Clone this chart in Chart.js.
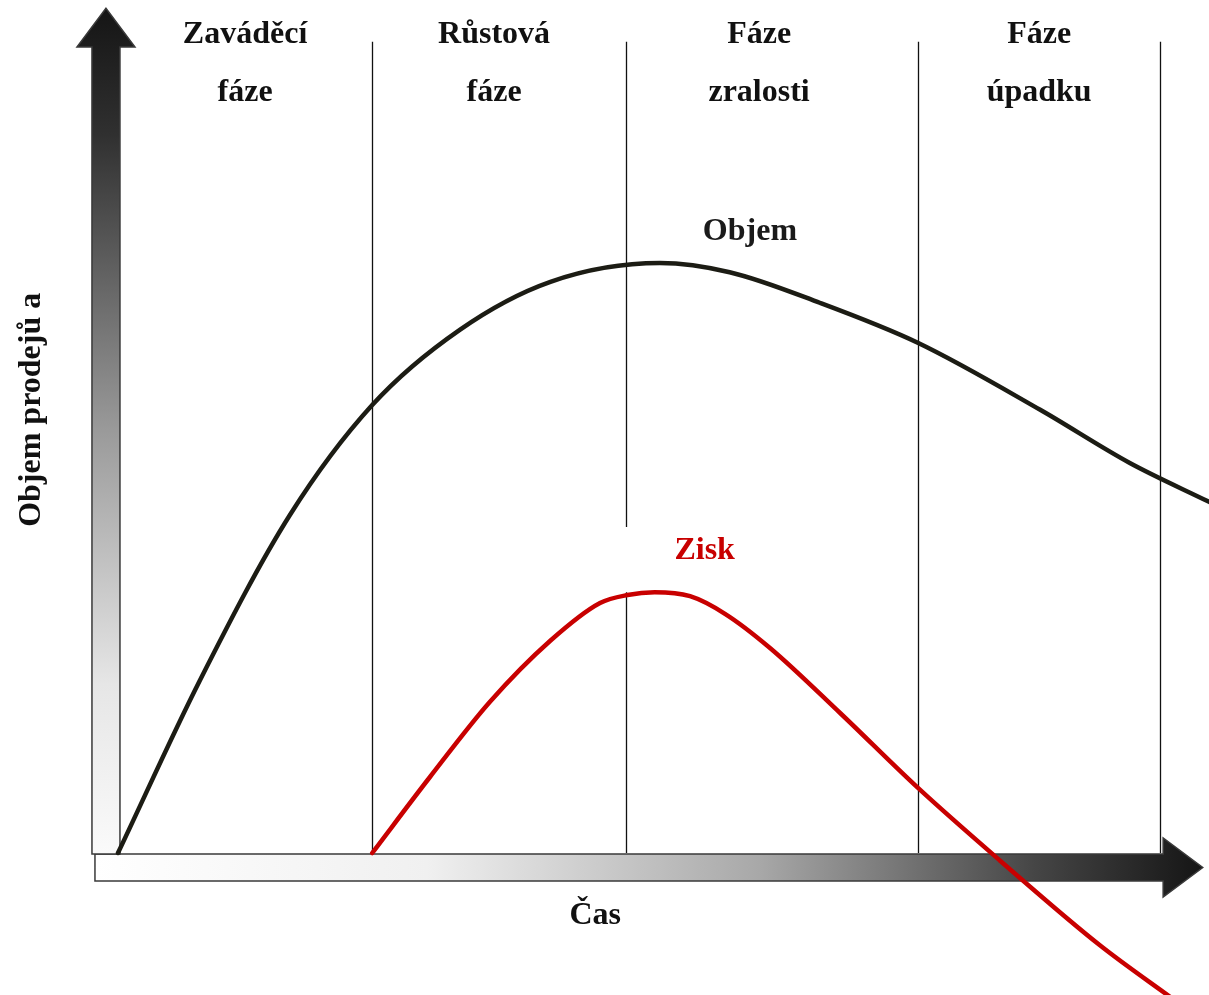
<!DOCTYPE html>
<html>
<head>
<meta charset="utf-8">
<script src="https://cdn.jsdelivr.net/npm/chart.js@4/dist/chart.umd.min.js"></script>
<style>
  html, body { margin: 0; padding: 0; background: #ffffff; }
  #c { display: block; }
</style>
</head>
<body>
<canvas id="c" width="1209" height="995"></canvas>
<script>
// ---- data (time units 0..100, value units) ----
const phaseBoundaries = [24.4, 48.75, 76.8, 100];
const phaseLine1 = ['Zaváděcí', 'Růstová', 'Fáze', 'Fáze'];
const phaseLine2 = ['fáze', 'fáze', 'zralosti', 'úpadku'];

const objemTime  = [0, 7.87, 16.5, 24.4, 32.8, 41.5, 52.0, 58.7, 67.4, 76.8, 88.5, 97.1, 104.7];
const objemValue = [0, 21.6, 42.25, 56.0, 65.4, 71.4, 73.75, 72.6, 68.75, 63.75, 55.4, 48.75, 43.9];

const ziskTime  = [24.4, 29.94, 35.7, 41.46, 46.26, 48.9, 51.5, 54.9, 58.25, 62.6, 69.3, 76.8, 84.6, 94.2, 101.4];
const ziskValue = [0, 9.5, 18.9, 26.5, 31.25, 32.25, 32.6, 32.1, 29.9, 25.6, 17.5, 8.1, -0.9, -11.5, -18.4];

const seriesNames = ['Objem', 'Zisk'];
const axisTitleY = 'Objem prodejů a';
const axisTitleX = 'Čas';

const FONT = 'bold 32px "Liberation Serif", "DejaVu Serif", serif';
const BLACK = '#1c1c14';
const RED = '#c80000';
const labelNudgePx = [0, -5, -13, 0];

function pts(xs, ys) { return xs.map((x, i) => ({ x: x, y: ys[i] })); }

const decor = {
  id: 'decor',
  beforeDatasetsDraw(chart) {
    const ctx = chart.ctx;
    const xs = chart.scales.x, ys = chart.scales.y;
    const ox = xs.getPixelForValue(0), oy = ys.getPixelForValue(0);
    const topY = ys.getPixelForValue(101.4);

    // phase boundary lines
    ctx.save();
    ctx.strokeStyle = '#111';
    ctx.lineWidth = 1.3;
    const ziskPeak = Math.max(...ziskValue);
    phaseBoundaries.forEach((b, i) => {
      const px = Math.round(xs.getPixelForValue(b)) + 0.5;
      ctx.beginPath();
      if (i === 1) {
        ctx.moveTo(px, topY); ctx.lineTo(px, ys.getPixelForValue(40.75));
        ctx.moveTo(px, ys.getPixelForValue(ziskPeak)); ctx.lineTo(px, oy);
      } else {
        ctx.moveTo(px, topY); ctx.lineTo(px, oy);
      }
      ctx.stroke();
    });
    ctx.restore();

    // horizontal arrow
    const hHeadBase = xs.getPixelForValue(100.3);
    const hTip = xs.getPixelForValue(104.1);
    ctx.save();
    let g = ctx.createLinearGradient(ox - 23, 0, hTip, 0);
    g.addColorStop(0, '#ffffff');
    g.addColorStop(0.3, '#f0f0f0');
    g.addColorStop(0.6, '#a8a8a8');
    g.addColorStop(0.85, '#454545');
    g.addColorStop(1, '#151515');
    ctx.fillStyle = g;
    ctx.strokeStyle = '#3a3a3a';
    ctx.lineWidth = 1.5;
    ctx.beginPath();
    ctx.moveTo(ox - 23, oy + 1);
    ctx.lineTo(hHeadBase, oy + 1);
    ctx.lineTo(hHeadBase, oy - 15);
    ctx.lineTo(hTip, oy + 14.5);
    ctx.lineTo(hHeadBase, oy + 44);
    ctx.lineTo(hHeadBase, oy + 28);
    ctx.lineTo(ox - 23, oy + 28);
    ctx.closePath();
    ctx.fill();
    ctx.stroke();
    ctx.restore();

    // vertical arrow
    const vHeadBase = ys.getPixelForValue(100.75);
    const vTip = ys.getPixelForValue(105.6);
    ctx.save();
    g = ctx.createLinearGradient(0, vTip, 0, oy);
    g.addColorStop(0, '#151515');
    g.addColorStop(0.15, '#303030');
    g.addColorStop(0.5, '#9a9a9a');
    g.addColorStop(0.8, '#e6e6e6');
    g.addColorStop(1, '#fafafa');
    ctx.fillStyle = g;
    ctx.strokeStyle = '#3a3a3a';
    ctx.lineWidth = 1.5;
    const cx = ox - 12;
    ctx.beginPath();
    ctx.moveTo(ox - 26, oy + 1);
    ctx.lineTo(ox - 26, vHeadBase);
    ctx.lineTo(ox - 41, vHeadBase);
    ctx.lineTo(cx, vTip);
    ctx.lineTo(ox + 17, vHeadBase);
    ctx.lineTo(ox + 2, vHeadBase);
    ctx.lineTo(ox + 2, oy + 1);
    ctx.closePath();
    ctx.fill();
    ctx.stroke();
    ctx.restore();
  },
  afterDatasetsDraw(chart) {
    const ctx = chart.ctx;
    const xs = chart.scales.x, ys = chart.scales.y;
    ctx.save();
    ctx.font = FONT;
    ctx.textAlign = 'center';
    ctx.textBaseline = 'middle';
    ctx.fillStyle = '#111';
    const edges = [0].concat(phaseBoundaries);
    for (let i = 0; i < phaseLine1.length; i++) {
      const cxp = (xs.getPixelForValue(edges[i]) + xs.getPixelForValue(edges[i + 1])) / 2 + labelNudgePx[i];
      ctx.fillText(phaseLine1[i], cxp, ys.getPixelForValue(102.25));
      ctx.fillText(phaseLine2[i], cxp, ys.getPixelForValue(95.0));
    }
    // series labels
    const oPeakIdx = objemValue.indexOf(Math.max(...objemValue));
    ctx.fillStyle = '#1a1a1a';
    ctx.fillText(seriesNames[0], xs.getPixelForValue(objemTime[oPeakIdx] + 8.65), ys.getPixelForValue(objemValue[oPeakIdx] + 3.95));
    const zPeakIdx = ziskValue.indexOf(Math.max(...ziskValue));
    ctx.fillStyle = RED;
    ctx.fillText(seriesNames[1], xs.getPixelForValue(ziskTime[zPeakIdx] + 4.8), ys.getPixelForValue(ziskValue[zPeakIdx] + 5.2));
    // axis titles
    ctx.fillStyle = '#111';
    ctx.fillText(axisTitleX, xs.getPixelForValue(45.8), ys.getPixelForValue(-7.85));
    ctx.translate(xs.getPixelForValue(-8.25), ys.getPixelForValue(55.4));
    ctx.rotate(-Math.PI / 2);
    ctx.fillText(axisTitleY, 0, 0);
    ctx.restore();
  }
};

new Chart(document.getElementById('c'), {
  type: 'scatter',
  data: {
    datasets: [
      {
        label: seriesNames[0],
        data: pts(objemTime, objemValue),
        showLine: true,
        borderColor: BLACK,
        borderWidth: 4.5,
        pointRadius: 0,
        cubicInterpolationMode: 'monotone',
        borderCapStyle: 'round'
      },
      {
        label: seriesNames[1],
        data: pts(ziskTime, ziskValue),
        showLine: true,
        borderColor: RED,
        borderWidth: 4.5,
        pointRadius: 0,
        cubicInterpolationMode: 'monotone',
        borderCapStyle: 'round'
      }
    ]
  },
  options: {
    responsive: false,
    animation: false,
    events: [],
    layout: { padding: 0 },
    plugins: { legend: { display: false }, tooltip: { enabled: false }, title: { display: false } },
    scales: {
      x: { type: 'linear', min: -11.32, max: 104.7, display: false },
      y: { type: 'linear', min: -17.75, max: 106.625, display: false }
    }
  },
  plugins: [decor]
});
</script>
</body>
</html>
